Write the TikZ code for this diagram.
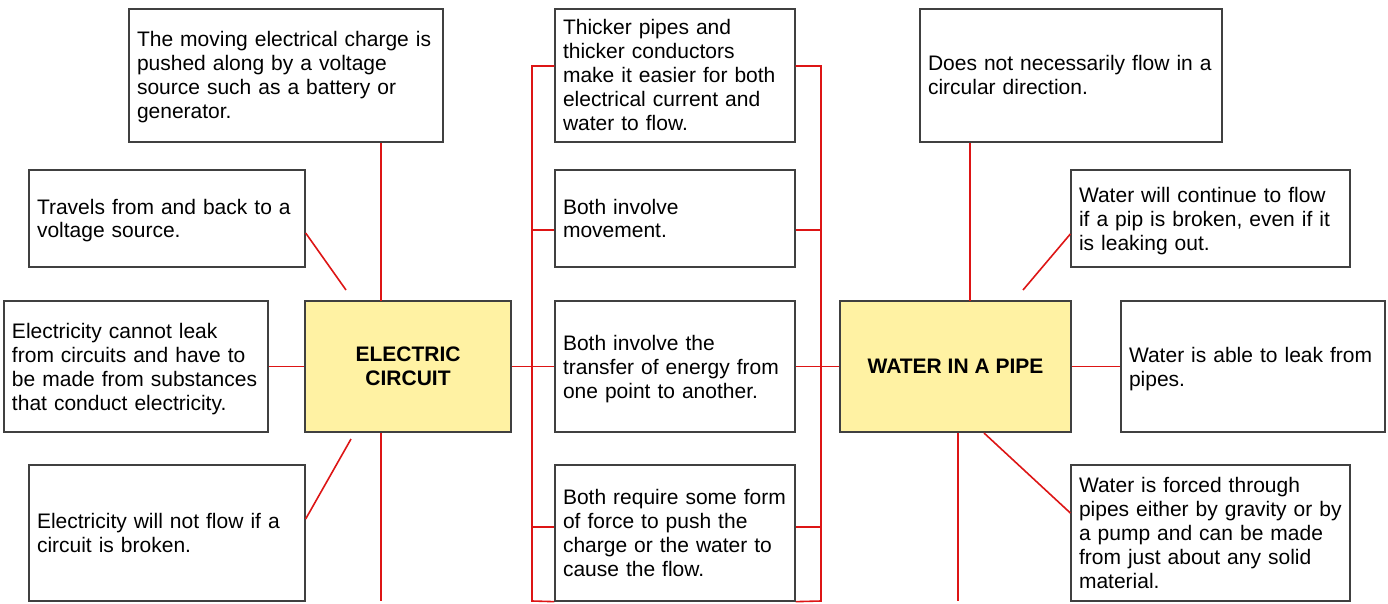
\documentclass[tikz,border=0pt]{standalone}
\usepackage{fontspec}
\setmainfont{Liberation Sans}
\definecolor{edge}{HTML}{404040}
\definecolor{conn}{HTML}{DD1515}
\definecolor{hub}{HTML}{FFF2A3}
\begin{document}
\begin{tikzpicture}[x=1pt,y=-1pt,
  box/.style={draw=edge,line width=1.3pt,fill=white,inner xsep=8pt,inner ysep=0pt,
    align=left,font=\fontsize{21}{24}\selectfont,rectangle,
    execute at begin node={\rule{0pt}{20.5pt}},
    execute at end node={\rule[-5.5pt]{0pt}{5.5pt}}},
  hubbox/.style={draw=edge,line width=1.3pt,fill=hub,inner sep=0pt,align=center,
    font=\fontsize{21}{24}\selectfont\bfseries,rectangle},
  link/.style={draw=conn,line width=1.6pt}]
\useasboundingbox (0,0) rectangle (1388,604);
% connector coordinates
\coordinate (ect) at (381,301);
\coordinate (ecb) at (381,601);
\coordinate (bfree) at (346,290);
\coordinate (dfree) at (351,439);
\coordinate (L1) at (532,66);
\coordinate (L5) at (532,601);
\coordinate (R1c) at (821,66);
\coordinate (R5c) at (821,601);
\coordinate (wpt) at (970,301);
\coordinate (wpb) at (958,601);
\coordinate (r2free) at (1023,290);
\coordinate (r4free) at (984,433);
% nodes
\node[box,text width=298pt,minimum height=133pt] (A) at (286,75.5) {The moving electrical charge is\\pushed along by a voltage\\source such as a battery or\\generator.};
\node[box,text width=260pt,minimum height=97pt] (B) at (167,218.5) {Travels from and back to a\\voltage source.};
\node[box,text width=248pt,minimum height=131pt] (C) at (136,366.5) {Electricity cannot leak\\from circuits and have to\\be made from substances\\that conduct electricity.};
\node[box,text width=260pt,minimum height=136pt] (D) at (167,533) {Electricity will not flow if a\\circuit is broken.};
\node[hubbox,minimum width=206pt,minimum height=131pt] (EC) at (408,366.5) {ELECTRIC\\CIRCUIT};
\node[box,text width=224pt,minimum height=133pt] (M1) at (675,75.5) {Thicker pipes and\\thicker conductors\\make it easier for both\\electrical current and\\water to flow.};
\node[box,text width=224pt,minimum height=97pt] (M2) at (675,218.5) {Both involve\\movement.};
\node[box,text width=224pt,minimum height=131pt] (M3) at (675,366.5) {Both involve the\\transfer of energy from\\one point to another.};
\node[box,text width=224pt,minimum height=136pt] (M4) at (675,533) {Both require some form\\of force to push the\\charge or the water to\\cause the flow.};
\node[hubbox,minimum width=231pt,minimum height=131pt] (WP) at (955.5,366.5) {WATER IN A PIPE};
\node[box,text width=286pt,minimum height=133pt] (R1) at (1071,75.5) {Does not necessarily flow in a\\circular direction.};
\node[box,text width=263pt,minimum height=97pt] (R2) at (1210.5,218.5) {Water will continue to flow\\if a pip is broken, even if it\\is leaking out.};
\node[box,text width=248pt,minimum height=131pt] (R3) at (1253,366.5) {Water is able to leak from\\pipes.};
\node[box,text width=263pt,minimum height=136pt] (R4) at (1210.5,533) {Water is forced through\\pipes either by gravity or by\\a pump and can be made\\from just about any solid\\material.};
% connectors
\path[link] (ect) -- (ect |- A.south);
\path[link] (EC.south -| ecb) -- (ecb);
\path[link] (B.east |- 0,233) -- (bfree);
\path[link] (C.east) -- (EC.west);
\path[link] (D.east |- 0,519) -- (dfree);
\path[link] (M1.west |- L1) -- (L1) -- (L5) -- (M4.south west);
\path[link] (M1.east |- R1c) -- (R1c) -- (R5c) -- (M4.south east);
\path[link] (M2.west |- 0,230) -- (L1 |- 0,230);
\path[link] (M2.east |- 0,230) -- (R1c |- 0,230);
\path[link] (M4.west |- 0,527) -- (L1 |- 0,527);
\path[link] (M4.east |- 0,527) -- (R1c |- 0,527);
\path[link] (EC.east) -- (M3.west);
\path[link] (M3.east) -- (WP.west);
\path[link] (wpt) -- (wpt |- R1.south);
\path[link] (WP.south -| wpb) -- (wpb);
\path[link] (R2.west |- 0,234) -- (r2free);
\path[link] (r4free) -- (R4.west |- 0,513);
\path[link] (WP.east) -- (R3.west);
% redraw the bottom edge of the lowest middle box over the bracket
\path[draw=edge,line width=1.3pt] (M4.south west) -- (M4.south east);
\end{tikzpicture}
\end{document}
